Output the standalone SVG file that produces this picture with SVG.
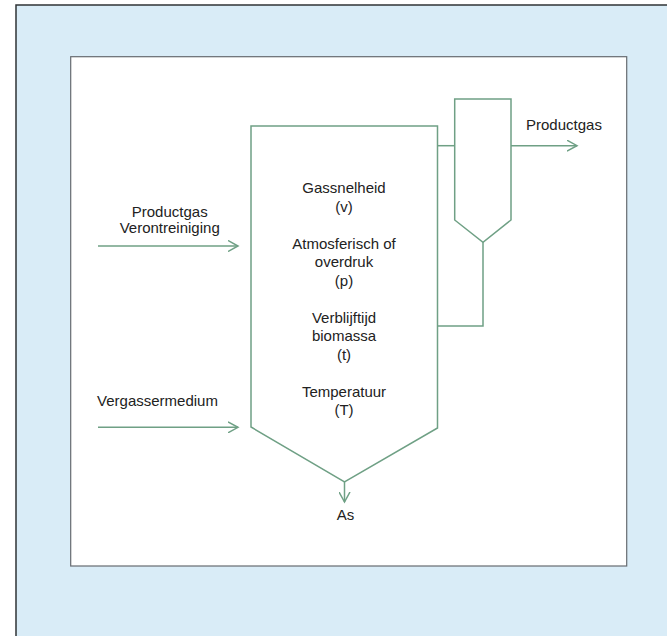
<svg xmlns="http://www.w3.org/2000/svg" width="667" height="636" viewBox="0 0 667 636">
<style>
.ln{fill:none;stroke:#6fa085;stroke-width:1.5}
.t{font-family:"Liberation Sans",Arial,sans-serif;font-size:15px;fill:#222}
.m{text-anchor:middle}
</style>
<defs>
<marker id="ah" markerWidth="12" markerHeight="12" refX="10" refY="6" orient="auto" markerUnits="userSpaceOnUse">
<path d="M0,0.5 L10,6 L0,11.5" fill="none" stroke="#6fa085" stroke-width="1.5"/>
</marker>
</defs>
<rect x="16" y="5" width="660" height="640" fill="#d9ecf7" stroke="#2f3336" stroke-width="1.5"/>
<rect x="70.7" y="56.7" width="556" height="509.3" fill="#fff" stroke="#666b70" stroke-width="1.2"/>
<g id="reactor">
<path class="ln" d="M251,126 H437.5 V428 L344.5,482 L251,427 Z"/>
<text class="t m" x="344" y="193">Gassnelheid</text>
<text class="t m" x="344" y="211.5">(v)</text>
<text class="t m" x="344" y="248.5">Atmosferisch of</text>
<text class="t m" x="344" y="267">overdruk</text>
<text class="t m" x="344" y="285.5">(p)</text>
<text class="t m" x="344" y="322.5">Verblijftijd</text>
<text class="t m" x="344" y="341">biomassa</text>
<text class="t m" x="344" y="359.5">(t)</text>
<text class="t m" x="344" y="396.5">Temperatuur</text>
<text class="t m" x="344" y="415">(T)</text>
</g>
<g id="cyclone">
<path class="ln" d="M454.7,220 V99 H511 V220 L483,242.3 Z"/>
</g>
<g id="label-productgas-in">
<text class="t m" x="169.7" y="216.7">Productgas</text>
<text class="t m" x="169.7" y="233">Verontreiniging</text>
</g>
<g id="label-vergassermedium">
<text class="t m" x="157.5" y="406">Vergassermedium</text>
</g>
<g id="label-productgas-out">
<text class="t" x="526" y="130">Productgas</text>
</g>
<g id="label-as">
<text class="t m" x="345.5" y="520">As</text>
</g>
<g id="connectors">
<line class="ln" x1="98" y1="246" x2="238" y2="246" marker-end="url(#ah)"/>
<line class="ln" x1="98" y1="427.3" x2="238" y2="427.3" marker-end="url(#ah)"/>
<line class="ln" x1="344.5" y1="482" x2="344.5" y2="502" marker-end="url(#ah)"/>
<line class="ln" x1="511" y1="145.7" x2="577" y2="145.7" marker-end="url(#ah)"/>
<line class="ln" x1="437.5" y1="145.7" x2="454.7" y2="145.7"/>
<path class="ln" d="M483,242.3 V326 H437.5"/>
</g>
</svg>
